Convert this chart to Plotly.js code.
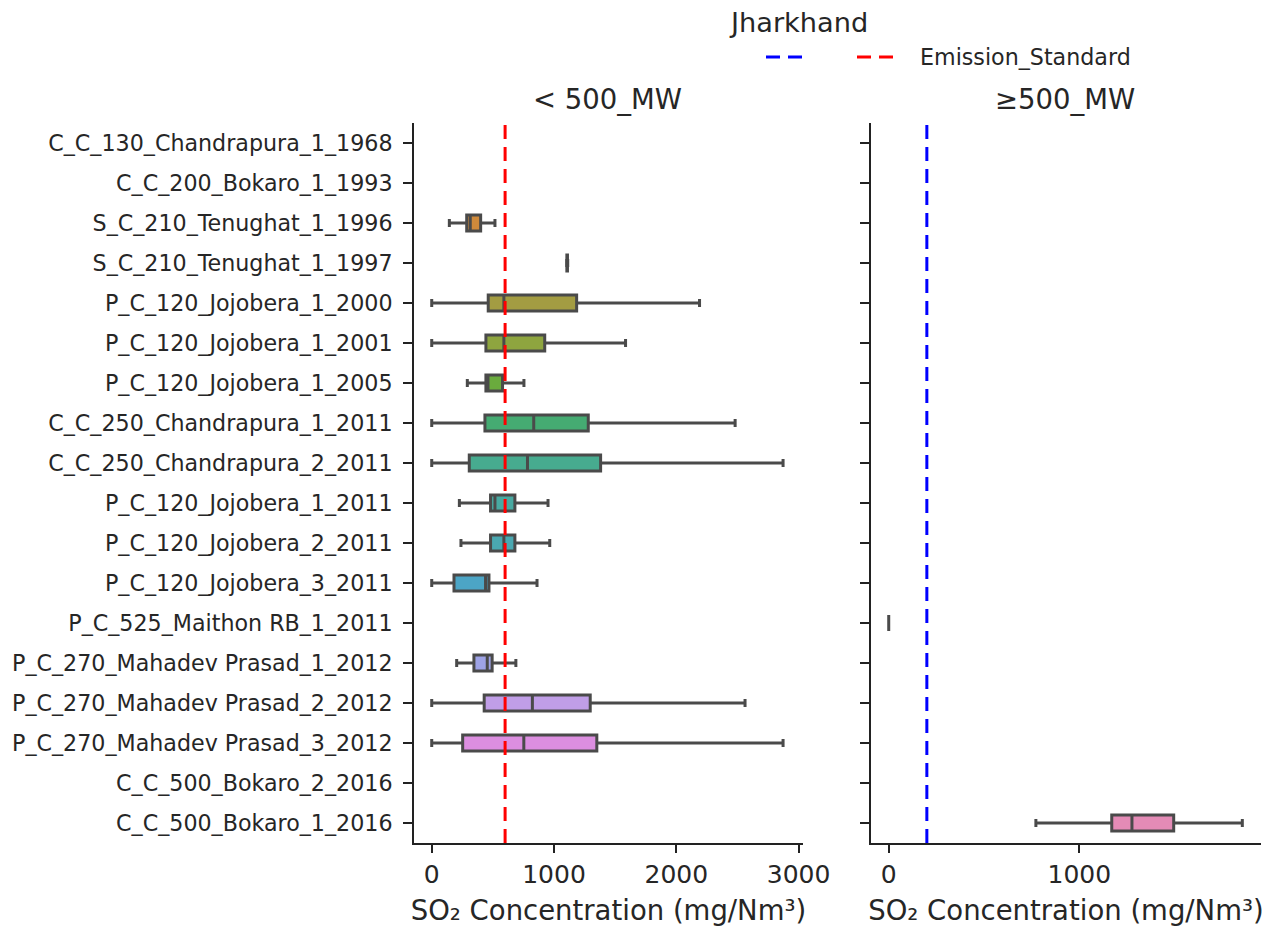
<!DOCTYPE html>
<html>
<head>
<meta charset="utf-8">
<script src="https://cdn.plot.ly/plotly-3.0.1.min.js"></script>
<style>html,body{margin:0;padding:0;background:#fff}#chart{width:1276px;height:926px}</style>
</head>
<body>
<div id="chart"></div>
<script>
// ---------- data ----------
const categories = [
  "C_C_130_Chandrapura_1_1968",
  "C_C_200_Bokaro_1_1993",
  "S_C_210_Tenughat_1_1996",
  "S_C_210_Tenughat_1_1997",
  "P_C_120_Jojobera_1_2000",
  "P_C_120_Jojobera_1_2001",
  "P_C_120_Jojobera_1_2005",
  "C_C_250_Chandrapura_1_2011",
  "C_C_250_Chandrapura_2_2011",
  "P_C_120_Jojobera_1_2011",
  "P_C_120_Jojobera_2_2011",
  "P_C_120_Jojobera_3_2011",
  "P_C_525_Maithon RB_1_2011",
  "P_C_270_Mahadev Prasad_1_2012",
  "P_C_270_Mahadev Prasad_2_2012",
  "P_C_270_Mahadev Prasad_3_2012",
  "C_C_500_Bokaro_2_2016",
  "C_C_500_Bokaro_1_2016"
];
const categoryColors = [
  "#e4838f","#e08a6c","#cf8a3b","#b7963c","#a39c42","#8ea53f",
  "#6aab3d","#45ab72","#47ab8f","#48a9a1","#4aa8b1","#4ca5c6",
  "#6f9ee0","#9ea3e6","#c09ee7","#dc8ee0","#e48cc5","#e48bb6"
];

// < 500_MW panel (SO2, mg/Nm3)
const smallPlants  = ["S_C_210_Tenughat_1_1996","S_C_210_Tenughat_1_1997","P_C_120_Jojobera_1_2000","P_C_120_Jojobera_1_2001","P_C_120_Jojobera_1_2005","C_C_250_Chandrapura_1_2011","C_C_250_Chandrapura_2_2011","P_C_120_Jojobera_1_2011","P_C_120_Jojobera_2_2011","P_C_120_Jojobera_3_2011","P_C_270_Mahadev Prasad_1_2012","P_C_270_Mahadev Prasad_2_2012","P_C_270_Mahadev Prasad_3_2012"];
const smallLower   = [144, 1103,    0,    0, 291,    0,    0, 226, 239,   0, 204,    0,    0];
const smallQ1      = [286, 1105,  462,  443, 443,  435,  307, 481, 481, 182, 345,  429,  253];
const smallMedian  = [315, 1107,  590,  590, 460,  834,  783, 517, 590, 440, 454,  823,  753];
const smallQ3      = [400, 1110, 1185,  924, 579, 1280, 1381, 680, 680, 468, 494, 1296, 1350];
const smallUpper   = [517, 1112, 2190, 1585, 754, 2481, 2873, 951, 965, 861, 688, 2562, 2873];

// >=500_MW panel
const largePlants  = ["P_C_525_Maithon RB_1_2011","C_C_500_Bokaro_1_2016"];
const largeLower   = [0,  772];
const largeQ1      = [0, 1170];
const largeMedian  = [0, 1276];
const largeQ3      = [0, 1495];
const largeUpper   = [0, 1855];

const standardSmall = 600;
const standardLarge = 200;

// ---------- traces ----------
const FONT = "DejaVu Sans";
const LINE = "#4a4a4a";
const TXT = "#262626";
const traces = [];
function addBoxes(plants, lo, q1, med, q3, up, xa, ya) {
  plants.forEach((p, i) => {
    const c = categoryColors[categories.indexOf(p)];
    traces.push({
      type: "box", orientation: "h",
      y: [p], lowerfence: [lo[i]], q1: [q1[i]], median: [med[i]], q3: [q3[i]], upperfence: [up[i]],
      xaxis: xa, yaxis: ya, name: p, showlegend: false,
      fillcolor: c, line: {color: LINE, width: 3},
      width: 0.4, whiskerwidth: 0.5, boxpoints: false, hoverinfo: "skip"
    });
  });
}
// register all categories on both panels
traces.push({type: "scatter", mode: "markers", y: categories, x: categories.map(() => null), xaxis: "x", yaxis: "y", showlegend: false, hoverinfo: "skip", marker: {opacity: 0}});
traces.push({type: "scatter", mode: "markers", y: categories, x: categories.map(() => null), xaxis: "x2", yaxis: "y2", showlegend: false, hoverinfo: "skip", marker: {opacity: 0}});
addBoxes(smallPlants, smallLower, smallQ1, smallMedian, smallQ3, smallUpper, "x", "y");
addBoxes(largePlants, largeLower, largeQ1, largeMedian, largeQ3, largeUpper, "x2", "y2");

// ---------- layout ----------
const W = 1276, H = 926, ML = 414, MR = 15, MT = 123, MB = 83;
const PW = W - ML - MR, PH = H - MT - MB;
const px = v => (v - ML) / PW;
const py = v => (H - MB - v) / PH;

const yBase = {
  type: "category", categoryorder: "array", categoryarray: categories,
  range: [categories.length - 0.5, -0.5], autorange: false,
  showline: true, linecolor: "#222", linewidth: 2,
  ticks: "outside", ticklen: 9, tickwidth: 2, tickcolor: "#222",
  ticklabelstandoff: 6,
  showgrid: false, zeroline: false, fixedrange: true,
  tickfont: {family: FONT, size: 22.2, color: TXT}
};
const xBase = {
  showline: true, linecolor: "#222", linewidth: 2,
  ticks: "outside", ticklen: 8, tickwidth: 2, tickcolor: "#222",
  showgrid: false, zeroline: false, dtick: 1000, tick0: 0,
  tickfont: {family: FONT, size: 25, color: TXT},
  title: {text: "SO₂ Concentration (mg/Nm³)", font: {family: FONT, size: 27.5, color: TXT}, standoff: 14}
};
const dash = "14px,8px";
const layout = {
  width: W, height: H,
  margin: {l: ML, r: MR, t: MT, b: MB, pad: 0},
  paper_bgcolor: "#fff", plot_bgcolor: "#fff",
  showlegend: false,
  xaxis:  Object.assign({}, xBase, {domain: [0, px(803)], range: [-145, 3036], anchor: "y"}),
  xaxis2: Object.assign({}, xBase, {domain: [px(871), 1], range: [-93, 1953], anchor: "y2"}),
  yaxis:  Object.assign({}, yBase, {anchor: "x"}),
  yaxis2: Object.assign({}, yBase, {anchor: "x2", showticklabels: false}),
  shapes: [
    {type: "line", xref: "x", yref: "y domain", x0: standardSmall, x1: standardSmall, y0: 0, y1: 1, line: {color: "red", width: 3, dash: dash}},
    {type: "line", xref: "x2", yref: "y2 domain", x0: standardLarge, x1: standardLarge, y0: 0, y1: 1, line: {color: "blue", width: 3, dash: dash}},
    {type: "line", xref: "paper", yref: "paper", x0: px(766), x1: px(803), y0: py(57), y1: py(57), line: {color: "blue", width: 3, dash: dash}},
    {type: "line", xref: "paper", yref: "paper", x0: px(857), x1: px(894), y0: py(57), y1: py(57), line: {color: "red", width: 3, dash: dash}}
  ],
  annotations: [
    {text: "Jharkhand", xref: "paper", yref: "paper", x: px(798), y: py(22), xanchor: "center", yanchor: "middle", showarrow: false, font: {family: FONT, size: 27.2, color: TXT}},
    {text: "Emission_Standard", xref: "paper", yref: "paper", x: px(918), y: py(57), xanchor: "left", yanchor: "middle", showarrow: false, font: {family: FONT, size: 22.2, color: TXT}},
    {text: "< 500_MW", xref: "paper", yref: "paper", x: px(607), y: py(100), xanchor: "center", yanchor: "middle", showarrow: false, font: {family: FONT, size: 27.5, color: TXT}},
    {text: "≥500_MW", xref: "paper", yref: "paper", x: px(1065), y: py(100), xanchor: "center", yanchor: "middle", showarrow: false, font: {family: FONT, size: 27.5, color: TXT}}
  ]
};

Plotly.newPlot("chart", traces, layout, {displayModeBar: false, staticPlot: true});
</script>
</body>
</html>
